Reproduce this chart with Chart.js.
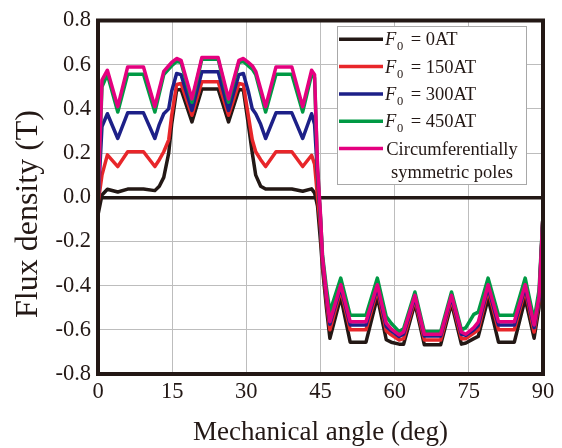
<!DOCTYPE html>
<html>
<head>
<meta charset="utf-8">
<title>Flux density</title>
<script src="https://cdn.jsdelivr.net/npm/chart.js@4.4.0/dist/chart.umd.min.js"></script>
<style>
  html, body { margin: 0; padding: 0; background: #fff; }
  #wykres { display: block; }
</style>
</head>
<body>
<canvas id="wykres" width="562" height="448"></canvas>
<script>
// kat mechaniczny [deg] - wspolny dla wszystkich serii
var katy = [0, 0.8, 1.9, 4.0, 6.0, 9.2, 11.5, 12.4, 13.3, 14.3, 14.9, 15.9, 16.8, 19.0, 21.0, 24.3, 26.4, 28.5, 29.4, 30.4, 31.2, 31.9, 32.9, 33.9, 36.0, 39.2, 41.4, 43.2, 43.8, 44.4,
  45.0, 45.4, 46.2, 46.9, 49.1, 51.0, 54.2, 56.5, 58.3, 59.3, 60.9, 61.8, 64.1, 66.0, 69.3, 71.5, 73.5, 74.4, 76.0, 76.9, 78.9, 81.0, 84.2, 86.4, 88.2, 89.2, 90];

// indukcja [T]
var b0AT = [-0.08, 0.01, 0.036, 0.024, 0.037, 0.037, 0.03, 0.05, 0.09, 0.2, 0.33, 0.485, 0.488, 0.341, 0.49, 0.49, 0.341, 0.488, 0.485, 0.33, 0.2, 0.1, 0.05, 0.037, 0.037, 0.037, 0.027, 0.038, 0.02, -0.04,
  -0.2, -0.32, -0.5, -0.638, -0.451, -0.656, -0.656, -0.451, -0.645, -0.656, -0.665, -0.665, -0.48, -0.668, -0.668, -0.48, -0.665, -0.66, -0.64, -0.63, -0.459, -0.656, -0.656, -0.459, -0.638, -0.5, -0.08];
var b150AT = [-0.03, 0.1, 0.192, 0.139, 0.206, 0.206, 0.139, 0.17, 0.206, 0.26, 0.37, 0.51, 0.515, 0.371, 0.523, 0.523, 0.371, 0.515, 0.51, 0.37, 0.26, 0.206, 0.17, 0.139, 0.206, 0.206, 0.139, 0.19, 0.15, 0.0,
  -0.14, -0.3, -0.47, -0.6, -0.42, -0.6, -0.6, -0.42, -0.605, -0.623, -0.646, -0.64, -0.463, -0.646, -0.646, -0.463, -0.64, -0.64, -0.615, -0.6, -0.42, -0.6, -0.6, -0.42, -0.61, -0.47, -0.08];
var b300AT = [-0.03, 0.32, 0.378, 0.266, 0.382, 0.382, 0.266, 0.33, 0.378, 0.40, 0.48, 0.56, 0.555, 0.393, 0.568, 0.568, 0.393, 0.555, 0.56, 0.48, 0.40, 0.378, 0.33, 0.266, 0.382, 0.382, 0.266, 0.378, 0.33, 0.1,
  -0.1, -0.28, -0.45, -0.575, -0.407, -0.578, -0.578, -0.407, -0.585, -0.605, -0.63, -0.62, -0.452, -0.628, -0.628, -0.452, -0.62, -0.625, -0.6, -0.58, -0.407, -0.578, -0.578, -0.407, -0.59, -0.46, -0.08];
var b450AT = [-0.03, 0.5, 0.555, 0.386, 0.557, 0.557, 0.386, 0.47, 0.555, 0.58, 0.595, 0.615, 0.61, 0.43, 0.625, 0.625, 0.43, 0.61, 0.615, 0.595, 0.58, 0.555, 0.47, 0.386, 0.557, 0.557, 0.386, 0.555, 0.54, 0.13,
  -0.09, -0.26, -0.41, -0.518, -0.366, -0.534, -0.534, -0.366, -0.54, -0.57, -0.608, -0.595, -0.429, -0.608, -0.608, -0.429, -0.6, -0.59, -0.53, -0.52, -0.366, -0.534, -0.534, -0.366, -0.556, -0.42, -0.08];
var bSym = [-0.03, 0.53, 0.575, 0.41, 0.59, 0.59, 0.41, 0.49, 0.57, 0.595, 0.61, 0.628, 0.62, 0.445, 0.632, 0.632, 0.445, 0.62, 0.628, 0.61, 0.595, 0.57, 0.49, 0.41, 0.59, 0.59, 0.41, 0.575, 0.555, 0.14,
  -0.08, -0.27, -0.44, -0.563, -0.396, -0.563, -0.563, -0.396, -0.57, -0.596, -0.623, -0.61, -0.444, -0.62, -0.62, -0.444, -0.61, -0.62, -0.59, -0.565, -0.396, -0.563, -0.563, -0.396, -0.578, -0.45, -0.08];

var xTicks = [0, 15, 30, 45, 60, 75, 90];
var yTicks = [-0.8, -0.6, -0.4, -0.2, 0, 0.2, 0.4, 0.6, 0.8];
var yTickLabels = ['-0.8', '-0.6', '-0.4', '-0.2', '0.0', '0.2', '0.4', '0.6', '0.8'];

var kolorTekstu = '#231815';
var czcionka = 'Liberation Serif';

function punkty(wartosci) {
  return katy.map(function (k, i) { return { x: k, y: wartosci[i] }; });
}

// legenda z indeksem dolnym F0 + ramka wykresu + opis osi Y
var dodatki = {
  id: 'dodatki',
  afterDraw: function (chart) {
    var ctx = chart.ctx;
    var a = chart.chartArea;
    ctx.save();

    ctx.strokeStyle = kolorTekstu;
    ctx.lineWidth = 4;
    ctx.strokeRect(a.left, a.top, a.right - a.left, a.bottom - a.top);

    // opis osi Y
    ctx.save();
    ctx.translate(29, 214);
    ctx.rotate(-Math.PI / 2);
    ctx.fillStyle = kolorTekstu;
    ctx.font = '32px "' + czcionka + '"';
    ctx.textAlign = 'center';
    ctx.textBaseline = 'middle';
    ctx.fillText('Flux density (T)', 0, 0);
    ctx.restore();

    // legenda
    var lx = 337, ly = 26, lw = 189, lh = 158;
    ctx.fillStyle = '#fff';
    ctx.fillRect(lx, ly, lw, lh);
    ctx.strokeStyle = '#a8a8a8';
    ctx.lineWidth = 1;
    ctx.strokeRect(lx + 0.5, ly + 0.5, lw, lh);

    var ds = chart.data.datasets;
    ctx.fillStyle = kolorTekstu;
    ctx.textBaseline = 'alphabetic';
    for (var i = 0; i < ds.length; i++) {
      var y = 39.3 + i * 27.3;
      ctx.strokeStyle = ds[i].borderColor;
      ctx.lineWidth = 3.5;
      ctx.beginPath();
      ctx.moveTo(339, y);
      ctx.lineTo(383, y);
      ctx.stroke();

      ctx.textAlign = 'left';
      if (i < 4) {
        ctx.font = 'italic 18.5px "' + czcionka + '"';
        ctx.fillText('F', 385, y + 6);
        ctx.font = '12.5px "' + czcionka + '"';
        ctx.fillText('0', 397, y + 11);
        ctx.font = '18.5px "' + czcionka + '"';
        ctx.fillText(' = ' + ds[i].label, 406, y + 6);
      } else {
        ctx.font = '18.5px "' + czcionka + '"';
        ctx.textAlign = 'center';
        ctx.fillText('Circumferentially', 452, y + 6);
        ctx.fillText('symmetric poles', 452, y + 29);
      }
    }
    ctx.restore();
  }
};

function rysujWykres() {
  var chartdata = {
    datasets: [{
        label: '0AT',
        borderColor: '#231815',
        data: punkty(b0AT),
        order: 5
      },
      {
        label: '150AT',
        borderColor: '#e8262a',
        data: punkty(b150AT),
        order: 4
      },
      {
        label: '300AT',
        borderColor: '#1d2088',
        data: punkty(b300AT),
        order: 3
      },
      {
        label: '450AT',
        borderColor: '#009944',
        data: punkty(b450AT),
        order: 2
      },
      {
        label: 'Circumferentially symmetric poles',
        borderColor: '#e4007f',
        data: punkty(bSym),
        order: 1
      }
    ]
  };

  chartdata.datasets.forEach(function (d) {
    d.fill = false;
    d.borderWidth = 3.5;
    d.pointRadius = 0;
    d.tension = 0;
    d.borderJoinStyle = 'round';
  });

  var ctx = document.getElementById('wykres');

  window.wykres = new Chart(ctx, {
    type: 'line',
    data: chartdata,
    plugins: [dodatki],
    options: {
      responsive: false,
      animation: false,
      devicePixelRatio: 1,
      layout: { padding: { top: 17, right: 19, left: 0, bottom: 0 } },
      plugins: {
        legend: { display: false },
        tooltip: { enabled: false }
      },
      scales: {
        x: {
          type: 'linear',
          min: 0,
          max: 90,
          afterBuildTicks: function (s) {
            s.ticks = xTicks.map(function (v) { return { value: v }; });
          },
          afterFit: function (s) { s.height = 74; },
          grid: { color: '#bdbdbd', lineWidth: 1, drawTicks: false },
          border: { display: false },
          ticks: {
            padding: 5,
            color: kolorTekstu,
            maxRotation: 0,
            autoSkip: false,
            font: { family: czcionka, size: 22.5 }
          },
          title: {
            display: true,
            text: 'Mechanical angle (deg)',
            color: kolorTekstu,
            font: { family: czcionka, size: 27, lineHeight: 1 },
            padding: { top: 0, bottom: 2 }
          }
        },
        y: {
          type: 'linear',
          min: -0.8,
          max: 0.8,
          afterBuildTicks: function (s) {
            s.ticks = yTicks.map(function (v) { return { value: v }; });
          },
          afterFit: function (s) { s.width = 98; },
          grid: {
            drawTicks: false,
            color: function (c) {
              return c.tick && Math.abs(c.tick.value) < 1e-9 ? kolorTekstu : '#bdbdbd';
            },
            lineWidth: function (c) {
              return c.tick && Math.abs(c.tick.value) < 1e-9 ? 3.5 : 1;
            }
          },
          border: { display: false },
          ticks: {
            padding: 7,
            color: kolorTekstu,
            font: { family: czcionka, size: 22.5 },
            callback: function (v, i) { return yTickLabels[i]; }
          }
        }
      }
    }
  });
}

rysujWykres();
</script>
</body>
</html>
